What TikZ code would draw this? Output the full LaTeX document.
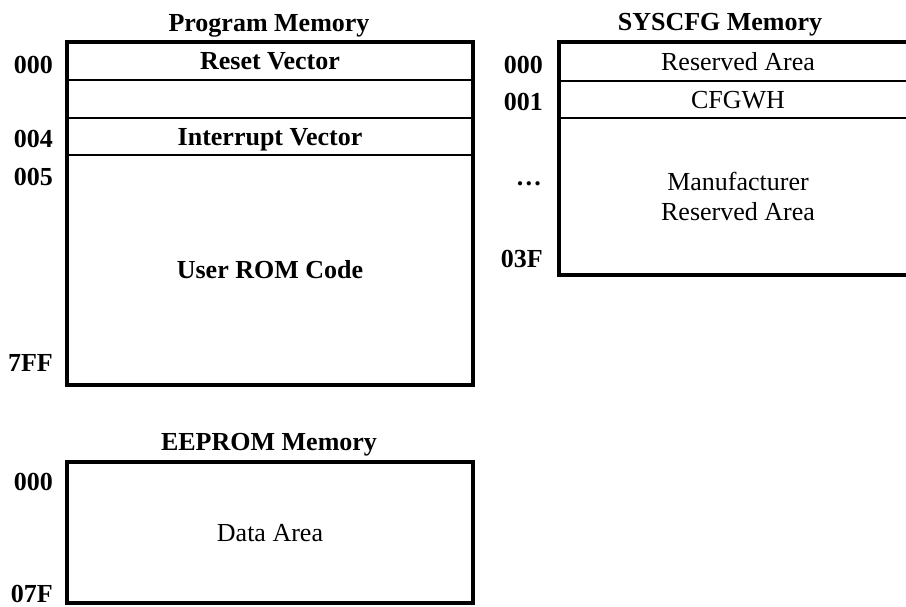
\documentclass[tikz,border=0pt]{standalone}
\usepackage{fontspec}
\setmainfont{Liberation Serif}
\usetikzlibrary{positioning}

\newcommand{\memfont}{\fontsize{26}{30}\selectfont}

\begin{document}
\begin{tikzpicture}[x=1pt, y=-1pt,
        cell/.style={draw, line width=1.5pt, rectangle, inner sep=0pt, outer sep=0pt, align=center, text height=17pt, text depth=0pt, font=\memfont},
        boldcell/.style={cell, font=\memfont\bfseries},
        frame/.style={draw, line width=3.5pt},
        addr/.style={anchor=base east, inner sep=0pt, font=\memfont\bfseries},
        title/.style={anchor=base, inner sep=0pt, font=\memfont\bfseries}
    ]
        \useasboundingbox (0,0) rectangle (906,606);

        % program memory
        \node[title] (progtitle) at (269,31) {Program Memory};
        \node[boldcell, anchor=north west, minimum width=406pt, minimum height=38pt] (reset) at (67,42) {Reset Vector};
        \node[boldcell, below=0pt of reset, minimum width=406pt, minimum height=38pt] (spare) {};
        \node[boldcell, below=0pt of spare, minimum width=406pt, minimum height=37pt] (irq) {Interrupt Vector};
        \node[boldcell, below=0pt of irq, minimum width=406pt, minimum height=230pt] (usercode) {User ROM Code};
        \draw[frame] (reset.north west) rectangle (usercode.south east);

        \node[addr] (p000) at (53,73) {000};
        \node[addr] (p004) at (53,147) {004};
        \node[addr] (p005) at (53,185) {005};
        \node[addr] (p7ff) at (53,371) {7FF};

        % syscfg memory
        \node[title] (cfgtitle) at (720,30) {SYSCFG Memory};
        \node[cell, anchor=north west, minimum width=358pt, minimum height=39pt] (rsvd) at (559,42) {Reserved Area};
        \node[cell, below=0pt of rsvd, minimum width=358pt, minimum height=37pt] (cfgwh) {CFGWH};
        \node[cell, below=0pt of cfgwh, minimum width=358pt, minimum height=157pt, text height={}, text depth={}] (mfr) {Manufacturer\\Reserved Area};
        \draw[frame] (rsvd.north west) rectangle (mfr.south east);

        \node[addr] (c000) at (543,73) {000};
        \node[addr] (c001) at (543,110) {001};
        \node[addr] (cdots) at (542,185) {\dots};
        \node[addr] (c03f) at (543,267) {03F};

        % eeprom memory
        \node[title] (eetitle) at (269,450) {EEPROM Memory};
        \node[cell, anchor=north west, minimum width=406pt, minimum height=141pt] (data) at (67,462) {Data Area};
        \draw[frame] (data.north west) rectangle (data.south east);

        \node[addr] (e000) at (53,490) {000};
        \node[addr] (e07f) at (53,602) {07F};
    \end{tikzpicture}
\end{document}
